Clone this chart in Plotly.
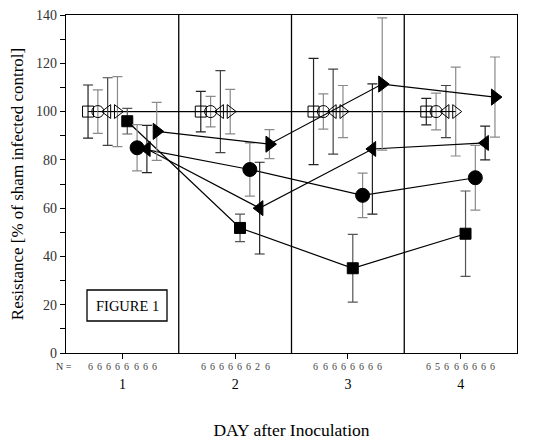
import plotly.graph_objects as go

# ---------------- data ----------------
days = [1, 2, 3, 4]
day_labels = ["1", "2", "3", "4"]

series_names = ["Sham A", "Sham B", "Sham C", "Sham D",
                "Infected A", "Infected B", "Infected C", "Infected D"]

sham_a = [100, 100, 100, 100]
sham_a_err = [11, 8.4, 22, 5.5]
sham_b = [100, 100, 100, 100]
sham_b_err = [9, 6.3, 7.3, 7.6]
sham_c = [100, 100, 100, 100]
sham_c_err = [14, 17, 17.6, 10.8]
sham_d = [100, 100, 100, 100]
sham_d_err = [14.5, 9.2, 10.8, 18.4]

inf_a = [96, 51.8, 35.1, 49.4]
inf_a_err = [5.3, 5.7, 14, 17.7]
inf_b = [85, 76, 65.3, 72.6]
inf_b_err = [9.6, 11, 9.2, 13.4]
inf_c = [84.5, 60, 84.5, 87]
inf_c_err = [9.8, 19, 27, 7]
inf_d = [91.8, 86.5, 111.4, 106]
inf_d_err = [12, 6, 27.4, 16.6]

# N per day (8 groups each)
n_day1 = [6, 6, 6, 6, 6, 6, 6, 6]
n_day2 = [6, 6, 6, 6, 6, 6, 2, 6]
n_day3 = [6, 6, 6, 6, 6, 6, 6, 6]
n_day4 = [6, 5, 6, 6, 6, 6, 6, 6]

y_ticks = [0, 20, 40, 60, 80, 100, 120, 140]

# ---------------- styling ----------------
values = [sham_a, sham_b, sham_c, sham_d, inf_a, inf_b, inf_c, inf_d]
errors = [sham_a_err, sham_b_err, sham_c_err, sham_d_err,
          inf_a_err, inf_b_err, inf_c_err, inf_d_err]
symbols = ["square-open", "circle-open", "triangle-left-open", "triangle-right-open",
           "square", "circle", "triangle-left", "triangle-right"]
sizes = [11, 12, 12, 12, 11, 14, 13, 14]
err_colors = ["#222222", "#8a8a8a", "#444444", "#8a8a8a",
              "#555555", "#8a8a8a", "#222222", "#8a8a8a"]
line_widths = [1, 1, 1, 1, 1.2, 1.2, 1.2, 1.2]
offsets = [(k - 3.5) * 0.087 for k in range(8)]

SERIF = "Liberation Serif, Times New Roman, serif"

# page body has an 8px default margin -> figure is 8px smaller and offset
W, H = 530, 432
ML, MR, MT, MB = 58, 21, 7, 87
PW, PH = W - ML - MR, H - MT - MB


def px_x(p):  # page pixel -> paper x
    return (p - 8 - ML) / PW


def px_y(p):  # page pixel -> paper y
    return (8 + MT + PH - p) / PH


fig = go.Figure()
for k in range(8):
    xs = [d + offsets[k] for d in days]
    fig.add_trace(go.Scatter(
        x=xs, y=values[k], name=series_names[k],
        mode="lines+markers",
        line=dict(color="black", width=line_widths[k]),
        marker=dict(symbol=symbols[k], size=sizes[k], color="black",
                    line=dict(color="black", width=1)),
        error_y=dict(type="data", array=errors[k], visible=True,
                     color=err_colors[k], thickness=1.2, width=5),
        showlegend=False,
    ))

shapes = []
for b in [1.5, 2.5, 3.5]:
    shapes.append(dict(type="line", xref="x", yref="paper", x0=b, x1=b, y0=0, y1=1,
                       line=dict(color="black", width=1.3)))
# FIGURE 1 box
shapes.append(dict(type="rect", xref="paper", yref="paper",
                   x0=px_x(87), x1=px_x(167), y0=px_y(321), y1=px_y(290),
                   line=dict(color="black", width=1.3), fillcolor="white"))

annotations = [dict(text="FIGURE 1", xref="paper", yref="paper",
                    x=px_x(127), y=px_y(305.5), xanchor="center", yanchor="middle",
                    showarrow=False, font=dict(family=SERIF, size=14.5, color="black"))]
annotations.append(dict(text="N =", xref="paper", yref="paper", x=px_x(63.5), y=px_y(366),
                        xanchor="center", yanchor="middle",
                        showarrow=False, font=dict(family=SERIF, size=10, color="#333")))
n_rows = [n_day1, n_day2, n_day3, n_day4]
for di, d in enumerate(days):
    for k in range(8):
        annotations.append(dict(text=str(n_rows[di][k]), xref="x", yref="paper",
                                x=d + offsets[k] * 0.93, y=px_y(366), showarrow=False,
                                xanchor="center", yanchor="middle",
                                font=dict(family=SERIF, size=10, color="#444")))

fig.update_layout(
    width=W, height=H,
    margin=dict(l=ML, r=MR, t=MT, b=MB),
    plot_bgcolor="white", paper_bgcolor="white",
    font=dict(family=SERIF, color="black", size=14),
    shapes=shapes, annotations=annotations,
    xaxis=dict(range=[0.5, 4.5], tickvals=days, ticktext=day_labels,
               ticks="outside", ticklen=5, tickcolor="black",
               showline=True, linecolor="black", linewidth=1.3, mirror=True,
               showgrid=False, zeroline=False,
               ticklabelstandoff=13,
               tickfont=dict(family=SERIF, size=14),
               title=dict(text="DAY after Inoculation", standoff=37,
                          font=dict(family=SERIF, size=17.5)),
               automargin=False),
    yaxis=dict(range=[0, 140], tickvals=y_ticks,
               ticks="outside", ticklen=5, tickcolor="black",
               minor=dict(dtick=10, ticks="outside", ticklen=5, tickcolor="black"),
               showline=True, linecolor="black", linewidth=1.3, mirror=True,
               showgrid=False, zeroline=False,
               ticklabeloverflow="allow",
               tickfont=dict(family=SERIF, size=14, color="#333"),
               title=dict(text="Resistance [% of sham infected control]", standoff=11,
                          font=dict(family=SERIF, size=17)),
               automargin=False),
)

fig.write_html("out.html")
